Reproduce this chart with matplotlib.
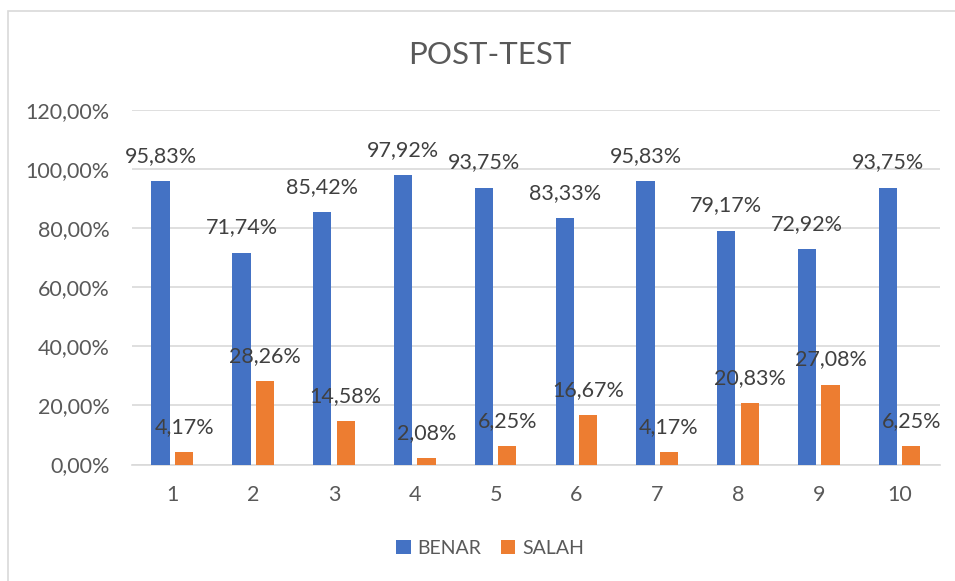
import matplotlib.pyplot as plt
import numpy as np
from matplotlib.patches import Rectangle

plt.rcParams['font.family'] = ['Lato', 'DejaVu Sans']

# data (percent)
categories = ['1', '2', '3', '4', '5', '6', '7', '8', '9', '10']
benar = [95.83, 71.74, 85.42, 97.92, 93.75, 83.33, 95.83, 79.17, 72.92, 93.75]
salah = [4.17, 28.26, 14.58, 2.08, 6.25, 16.67, 4.17, 20.83, 27.08, 6.25]

blue = '#4472C4'
orange = '#ED7D31'
grid_col = '#D9D9D9'
label_col = '#404040'
tick_col = '#595959'


def pct(v, nd=2):
    return f'{v:.{nd}f}'.replace('.', ',') + '%'


fig = plt.figure(figsize=(9.55, 5.81), dpi=100)
ax = fig.add_axes([0.1382, 0.2005, 0.8461, 0.6102])

# chart border (only left/top visible, rest cropped)
fig.patches.append(Rectangle((8 / 955, -0.1), 1.2, (1 - 11 / 581) + 0.1,
                             transform=fig.transFigure, fill=False,
                             edgecolor=grid_col, linewidth=1.2))

x = np.arange(len(categories))
w = 0.227
off = 0.145
b1 = ax.bar(x - off, benar, width=w, color=blue, label='BENAR', zorder=3)
b2 = ax.bar(x + off, salah, width=w, color=orange, label='SALAH', zorder=3)

for bars, vals in ((b1, benar), (b2, salah)):
    for bar, v in zip(bars, vals):
        ax.annotate(pct(v), (bar.get_x() + bar.get_width() / 2, v),
                    xytext=(0, 11), textcoords='offset points',
                    ha='center', va='bottom', fontsize=15.5,
                    color=label_col, zorder=5)

ax.set_xlim(-0.5, len(categories) - 0.5)
ax.set_ylim(0, 120)
ax.set_yticks(np.arange(0, 121, 20))
ax.set_yticklabels([pct(t) for t in np.arange(0, 121, 20)])
ax.set_xticks(x)
ax.set_xticklabels(categories)
ax.tick_params(axis='both', length=0, labelsize=15.5, colors=tick_col)
ax.tick_params(axis='y', pad=16)
ax.tick_params(axis='x', pad=15)
ax.yaxis.grid(True, color=grid_col, linewidth=1.2, zorder=0)
for s in ['top', 'right', 'left']:
    ax.spines[s].set_visible(False)
ax.spines['bottom'].set_color(grid_col)
ax.spines['bottom'].set_linewidth(1.2)

fig.text(0.513, 1 - 55 / 581, 'POST-TEST', ha='center', va='center',
         fontsize=22.5, color=tick_col)

fig.legend(loc='center', bbox_to_anchor=(0.513, 1 - 548 / 581), ncol=2,
           frameon=False, fontsize=14, handlelength=0.75, handleheight=0.75,
           columnspacing=1.0, handletextpad=0.35, labelcolor=tick_col)

fig.savefig('out.png', dpi=100)
